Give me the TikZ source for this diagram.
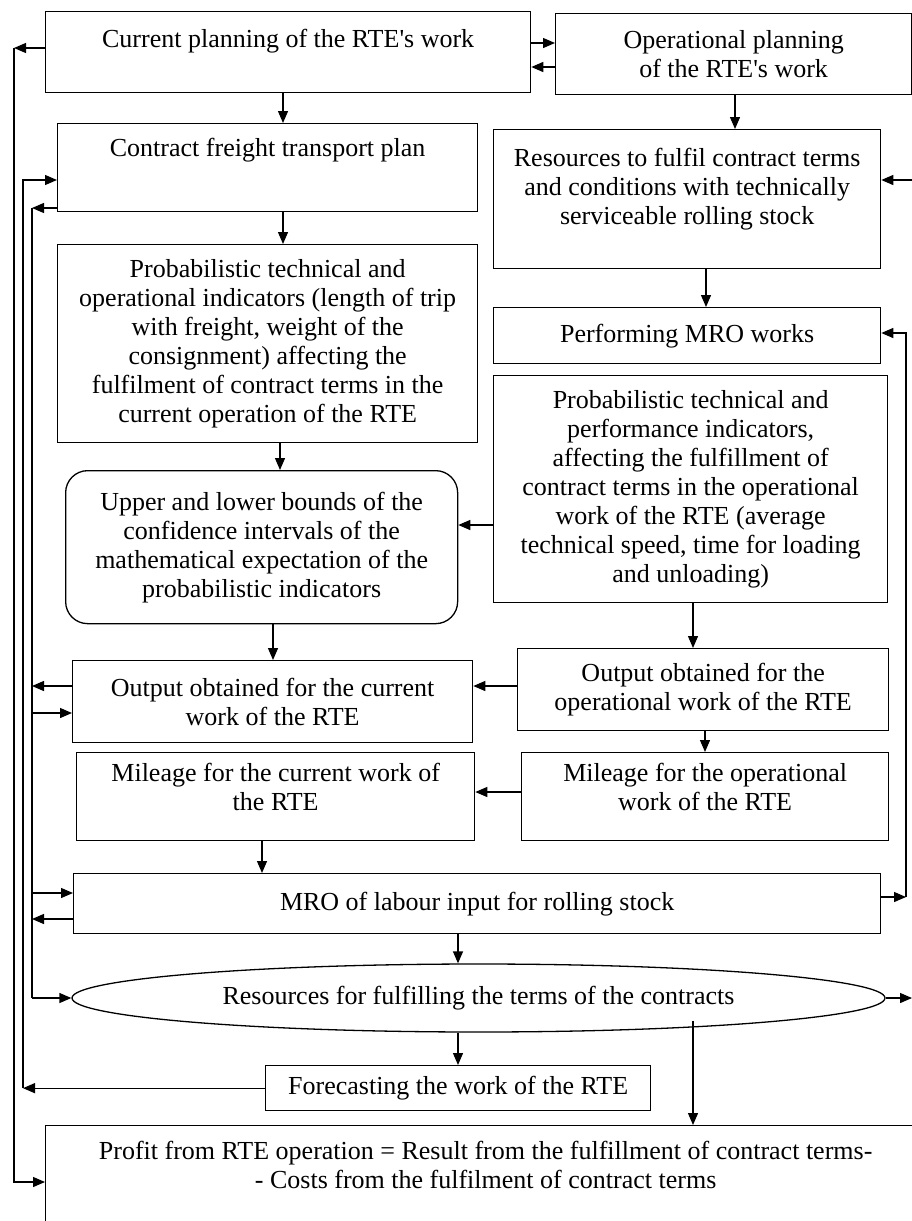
\documentclass[tikz,border=0pt]{standalone}
\usepackage{fontspec}
\setmainfont{Liberation Serif}
\usetikzlibrary{arrows.meta,shapes.geometric,calc}

\begin{document}
\begin{tikzpicture}[x=1pt,y=-1pt,
    blk/.style={draw,line width=1.3pt,anchor=north west,inner sep=0pt,align=center},
    arr/.style={line width=1.3pt,-{Triangle[length=12pt,width=10pt]}}]
  \fontsize{26}{29}\selectfont
  \useasboundingbox (0,0) rectangle (912,1221);
  % planning
  \node[blk,minimum width=485pt,text height=36pt,text depth=45pt] (cp) at (45,11) {Current planning of the RTE\textquotesingle s work};
  \node[blk,minimum width=356pt,minimum height=81pt] (op) at (555,13) {Operational planning\\ of the RTE\textquotesingle s work};
  \node[blk,minimum width=420pt,text height=33pt,text depth=55pt] (cf) at (57,123) {Contract freight transport plan};
  \node[blk,minimum width=387pt,text height=95pt,text depth=44pt] (rs) at (493,129)
    {Resources to fulfil contract terms\\ and conditions with technically\\ serviceable rolling stock};
  % indicators
  \node[blk,minimum width=420pt,minimum height=198pt] (pl) at (57,244)
    {Probabilistic technical and\\ operational indicators (length of trip\\ with freight, weight of the\\
     consignment) affecting the\\ fulfilment of contract terms in the\\ current operation of the RTE};
  \node[blk,minimum width=387pt,minimum height=56pt] (pm) at (493,307) {Performing MRO works};
  \node[blk,minimum width=394pt,minimum height=227pt] (pr) at (493,375)
    {Probabilistic technical and\\ performance indicators,\\ affecting the fulfillment of\\
     contract terms in the operational\\ work of the RTE (average\\ technical speed, time for loading\\ and unloading)};
  \node[blk,rounded corners=22pt,minimum width=392pt,minimum height=153pt] (ub) at (65,470)
    {Upper and lower bounds of the\\ confidence intervals of the\\ mathematical expectation of the\\ probabilistic indicators};
  % output and mileage
  \node[blk,minimum width=371pt,minimum height=82pt] (oo) at (517,648) {Output obtained for the\\ operational work of the RTE};
  \node[blk,minimum width=400pt,minimum height=82pt] (oc) at (72,660) {Output obtained for the current\\ work of the RTE};
  \node[blk,minimum width=398pt,text height=58pt,text depth=30pt] (ml) at (76,752) {Mileage for the current work of\\ the RTE};
  \node[blk,minimum width=367pt,text height=58pt,text depth=30pt] (mo) at (521,752) {Mileage for the operational\\ work of the RTE};
  \node[blk,minimum width=807pt,minimum height=60pt] (mro) at (73,873) {MRO of labour input for rolling stock};
  \node[blk,ellipse,anchor=center,minimum width=813pt,minimum height=68pt] (rf) at (478.5,998)
    {Resources for fulfilling the terms of the contracts};
  \node[blk,minimum width=385pt,minimum height=45pt] (fc) at (265,1065) {Forecasting the work of the RTE};
  \node[blk,minimum width=880pt,text height=63pt,text depth=61pt] (pf) at (45,1125)
    {Profit from RTE operation = Result from the fulfillment of contract terms-\\ - Costs from the fulfilment of contract terms};

  % bus lines
  \coordinate (ba) at (14,48);
  \coordinate (bb) at (fc.west -| 23,0);
  \coordinate (bc) at (32,208);
  \coordinate (br) at (906,897);
  \coordinate (rsin) at (916,180);
  \coordinate (rfout) at (912,998);

  \draw[arr] (cp.east |- 0,43) -- (op.west |- 0,43);
  \draw[arr] (op.west |- 0,67) -- (cp.east |- 0,67);
  \draw[arr] (cp.south -| 283,0) -- (cf.north -| 283,0);
  \draw[arr] (op.south -| 735,0) -- (rs.north -| 735,0);
  \draw[arr] (cf.south -| 283,0) -- (pl.north -| 283,0);
  \draw[arr] (rs.south -| 706,0) -- (pm.north -| 706,0);
  \draw[arr] (pl.south -| 280,0) -- (ub.north -| 280,0);
  \draw[arr] (pr.west |- 0,525) -- (ub.east |- 0,525);
  \draw[arr] (ub.south -| 273,0) -- (oc.north -| 273,0);
  \draw[arr] (pr.south -| 693,0) -- (oo.north -| 693,0);
  \draw[arr] (oo.west |- 0,686) -- (oc.east |- 0,686);
  \draw[arr] (oo.south -| 705,0) -- (mo.north -| 705,0);
  \draw[arr] (mo.west |- 0,792) -- (ml.east |- 0,792);
  \draw[arr] (ml.south -| 262,0) -- (mro.north -| 262,0);
  \draw[arr] (mro.south -| 458,0) -- (rf.north -| 458,0);
  \draw[arr] (rf.south -| 458,0) -- (fc.north -| 458,0);
  \draw[arr] ($(rf.south -| 693,0)+(0,-12)$) -- (pf.north -| 693,0);

  \draw[arr] (cp.west |- ba) -- (ba);
  \draw[arr] (ba) |- (pf.west |- 0,1182);
  \draw[arr] (fc.west) -- (bb);
  \draw[arr] (bb) |- (cf.west |- 0,180);
  \draw[arr] (cf.west |- bc) -- (bc);
  \draw[line width=1.3pt] (bc) -- (bc |- rf.west);
  \draw[arr] (oc.west |- 0,686) -- (bc |- 0,686);
  \draw[arr] (bc |- 0,713) -- (oc.west |- 0,713);
  \draw[arr] (bc |- 0,893) -- (mro.west |- 0,893);
  \draw[arr] (mro.west |- 0,919) -- (bc |- 0,919);
  \draw[arr] (bc |- rf.west) -- (rf.west);
  \draw[arr] (mro.east |- br) -- (br);
  \draw[arr] (br) |- (pm.east |- 0,333);
  \draw[arr] (rsin) -- (rs.east |- rsin);
  \draw[arr] (rf.east) -- (rfout);
\end{tikzpicture}
\end{document}
